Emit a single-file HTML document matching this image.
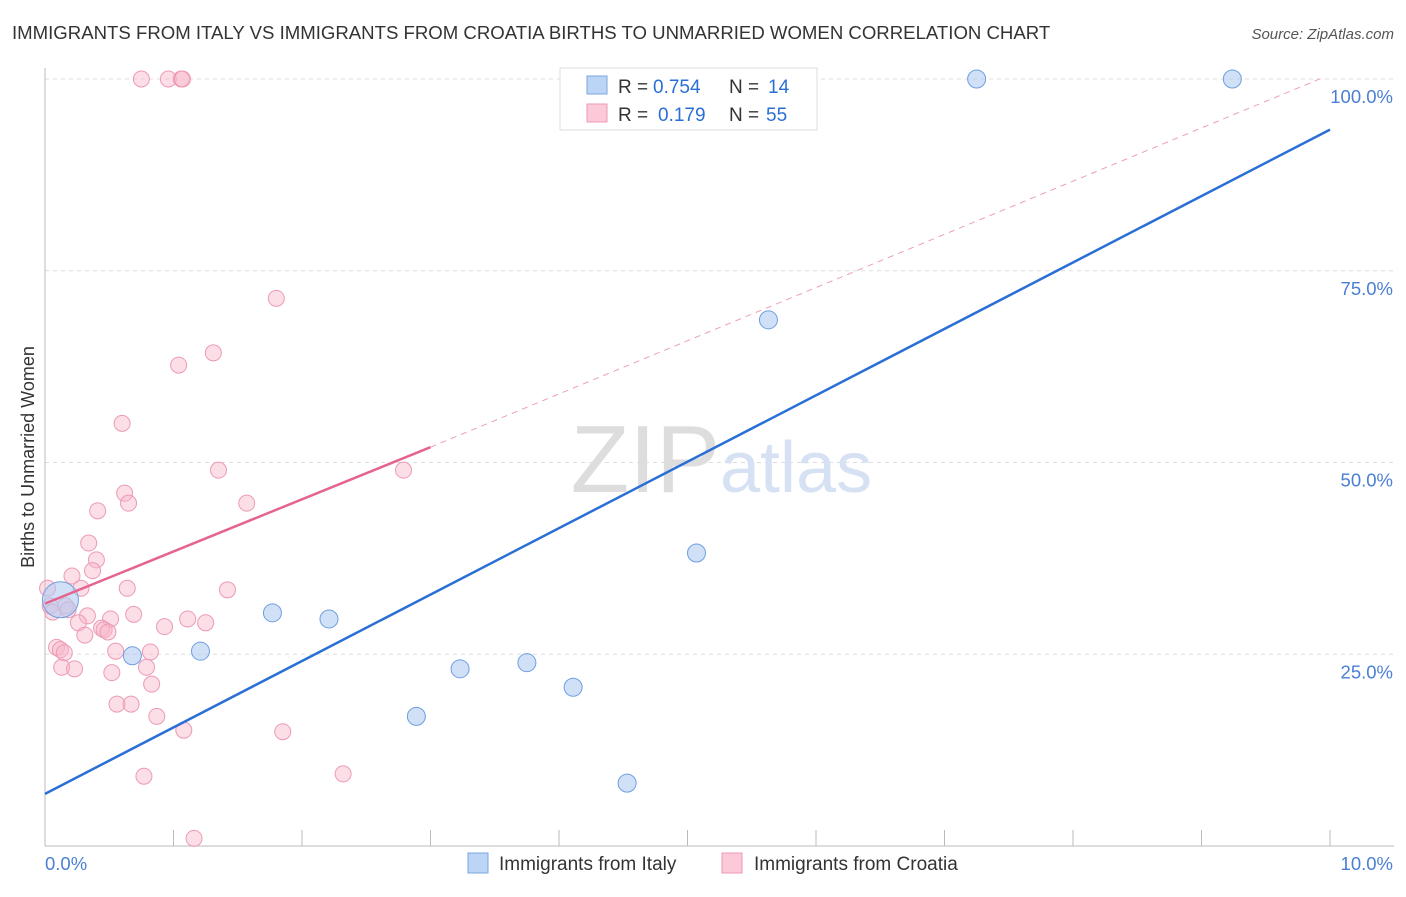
<!DOCTYPE html>
<html><head><meta charset="utf-8"><style>
body{margin:0;background:#fff;font-family:"Liberation Sans",sans-serif}
svg text{font-family:"Liberation Sans",sans-serif}
</style></head><body>
<svg width="1406" height="892">
<text x="12" y="39" font-size="18.6" fill="#333">IMMIGRANTS FROM ITALY VS IMMIGRANTS FROM CROATIA BIRTHS TO UNMARRIED WOMEN CORRELATION CHART</text>
<text x="1394" y="39" font-size="15" fill="#555" text-anchor="end" font-style="italic">Source: ZipAtlas.com</text>
<text x="0" y="0" transform="translate(34,457) rotate(-90)" font-size="18" fill="#333" text-anchor="middle">Births to Unmarried Women</text>
<g id="grid"></g>
<text x="720" y="492" font-size="96" fill="#ddd" text-anchor="end" font-family="Liberation Serif">ZIP</text>
<text x="720" y="492" font-size="72" fill="#d6e2f3">atlas</text>
<g id="marks"></g>
<g>
<rect x="560" y="68" width="257" height="62" fill="#fff" stroke="#ddd"/>
<rect x="587" y="76" width="20" height="18" fill="#bcd4f5" stroke="#7aa6e0"/>
<rect x="587" y="104" width="20" height="18" fill="#fbc9d8" stroke="#ef9ab4"/>
<text x="618" y="93" font-size="19" fill="#333">R =</text>
<text x="653" y="93" font-size="19" fill="#2a6fd6">0.754</text>
<text x="729" y="93" font-size="19" fill="#333">N =</text>
<text x="768" y="93" font-size="19" fill="#2a6fd6">14</text>
<text x="618" y="121" font-size="19" fill="#333">R =</text>
<text x="658" y="121" font-size="19" fill="#2a6fd6">0.179</text>
<text x="729" y="121" font-size="19" fill="#333">N =</text>
<text x="766" y="121" font-size="19" fill="#2a6fd6">55</text>
</g>
<g>
<rect x="468" y="853" width="20" height="20" fill="#bcd4f5" stroke="#7aa6e0"/>
<text x="499" y="870" font-size="19" fill="#333">Immigrants from Italy</text>
<rect x="722" y="853" width="20" height="20" fill="#fbc9d8" stroke="#ef9ab4"/>
<text x="754" y="870" font-size="19" fill="#333">Immigrants from Croatia</text>
</g>
</svg>
<script>
const yTicks=[25,50,75,100];
const yTickLabels=["25.0%","50.0%","75.0%","100.0%"];
const xTickLabels=["0.0%","10.0%"];
const pinkX=[0.75,0.96,1.06,1.07,1.80,1.31,1.04,0.60,1.35,2.79,0.62,0.65,1.57,0.41,0.34,0.40,0.37,0.21,0.28,0.64,1.42,0.02,0.04,0.06,0.16,0.18,0.33,0.69,1.11,0.51,1.25,0.26,0.93,0.44,0.46,0.49,0.31,0.09,0.12,0.15,0.55,0.82,0.13,0.23,0.79,0.52,0.83,0.56,0.67,0.87,1.08,1.85,0.77,2.32,1.16];
const pinkY=[100,100,100,100,71.4,64.3,62.7,55.1,49.0,49.0,46.0,44.7,44.7,43.7,39.5,37.3,35.9,35.2,33.6,33.6,33.4,33.6,31.3,30.5,31.3,30.8,30.0,30.2,29.6,29.6,29.1,29.1,28.6,28.4,28.2,27.9,27.5,25.9,25.6,25.2,25.4,25.3,23.3,23.1,23.3,22.6,21.1,18.5,18.5,16.9,15.1,14.9,9.1,9.4,1.0];
const blueX=[0.12,0.68,1.21,1.77,2.21,3.23,3.75,4.11,2.89,4.53,5.07,5.63,7.25,9.24];
const blueY=[32.1,24.8,25.4,30.4,29.6,23.1,23.9,20.7,16.9,8.2,38.2,68.6,100,100];
const blueSize=[18,9,9,9,9,9,9,9,9,9,9,9,9,9];
const blueTrend=[[0,6.8],[10,93.4]];
const pinkTrend=[[0,31.6],[3.0,52.0]];
const pinkDash=[[3.0,52.0],[9.92,100]];
const NS="http://www.w3.org/2000/svg";
const X0=45,X1=1330,Y0=846,Y1=79;
const sx=v=>X0+(X1-X0)*v/10, sy=v=>Y0-(Y0-Y1)*v/100;
function mk(t,a,p){const e=document.createElementNS(NS,t);for(const k in a)e.setAttribute(k,a[k]);p.appendChild(e);return e;}
const g=document.getElementById('grid'), m=document.getElementById('marks');
yTicks.forEach((t,i)=>{
 const l=mk('line',{x1:X0,x2:1394,y1:sy(t),y2:sy(t),stroke:'#ddd','stroke-dasharray':'4,4'},g);
 
 
 const tx=mk('text',{x:1393,y:sy(t)+24,'font-size':18.5,fill:'#4a7fd4','text-anchor':'end'},g);
 tx.textContent=yTickLabels[i];
 
 
});
const ax=mk('line',{x1:X0,x2:X0,y1:68,y2:Y0,stroke:'#bbb'},g);


const bx=mk('line',{x1:X0,x2:1394,y1:Y0,y2:Y0,stroke:'#bbb'},g);


for(let i=0;i<=10;i++){
 const t=mk('line',{x1:sx(i),x2:sx(i),y1:Y0-16,y2:Y0,stroke:'#bbb'},g);
 
 
}
[[0,'start',45],[10,'end',1393]].forEach((d,i)=>{
 const tx=mk('text',{x:d[2],y:870,'font-size':18.5,fill:'#4a7fd4','text-anchor':d[1]},g);
 tx.textContent=xTickLabels[i];
 
 
});
pinkX.forEach((x,i)=>{
 const c=mk('circle',{cx:sx(x),cy:sy(pinkY[i]),r:8,fill:'rgba(248,182,202,0.45)',stroke:'#ec9ab5','stroke-width':1},m);
 
 
});
blueX.forEach((x,i)=>{
 const c=mk('circle',{cx:sx(x),cy:sy(blueY[i]),r:blueSize[i],fill:'rgba(176,204,242,0.6)',stroke:'#6f9fe0','stroke-width':1},m);
 
 
});
const bl=mk('line',{x1:sx(blueTrend[0][0]),y1:sy(blueTrend[0][1]),x2:sx(blueTrend[1][0]),y2:sy(blueTrend[1][1]),stroke:'#2a6fd6','stroke-width':2.5},m);


const pl=mk('line',{x1:sx(pinkTrend[0][0]),y1:sy(pinkTrend[0][1]),x2:sx(pinkTrend[1][0]),y2:sy(pinkTrend[1][1]),stroke:'#e5648f','stroke-width':2.5},m);


const pd=mk('line',{x1:sx(pinkDash[0][0]),y1:sy(pinkDash[0][1]),x2:sx(pinkDash[1][0]),y2:sy(pinkDash[1][1]),stroke:'#eba0b8','stroke-width':1,'stroke-dasharray':'6,5'},m);


</script>
</body></html>
